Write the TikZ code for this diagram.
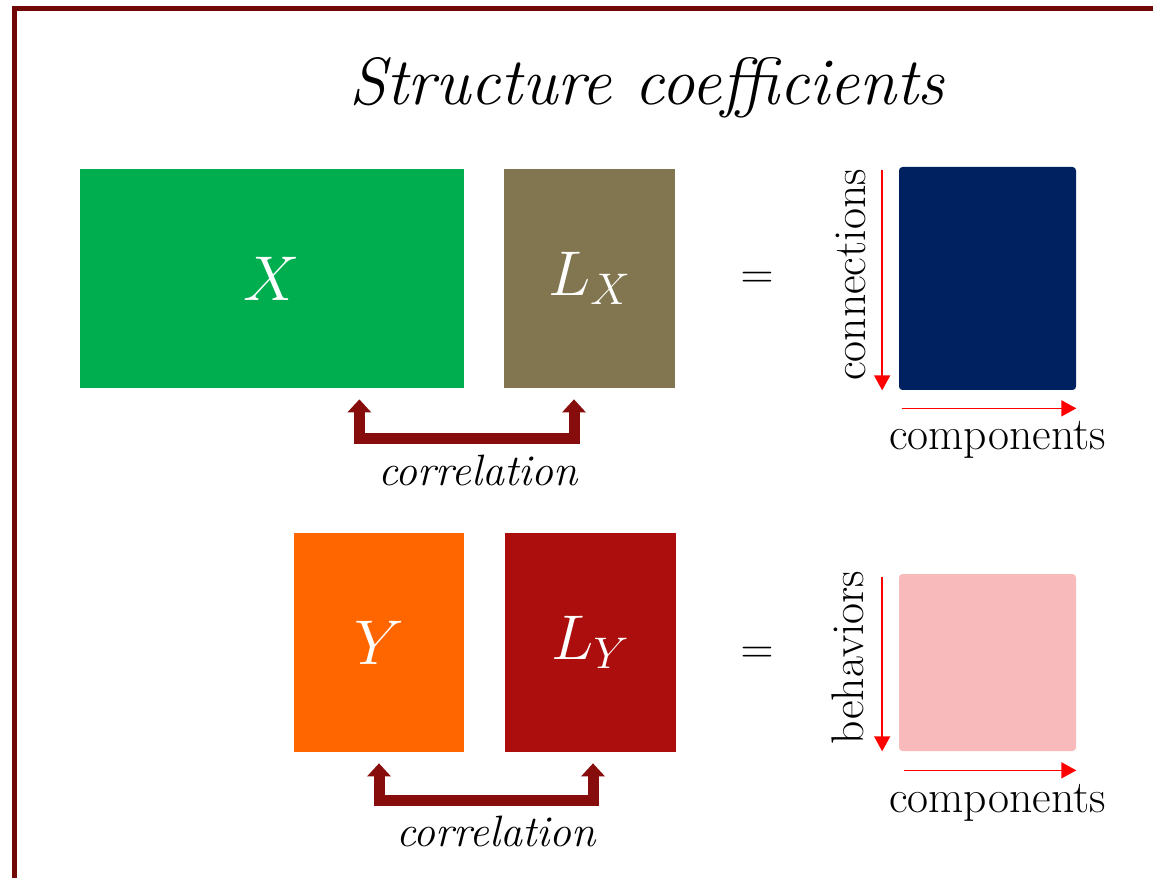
\RequirePackage{fix-cm}
\documentclass[tikz,border=0pt]{standalone}
\usepackage{tikz}
\usetikzlibrary{arrows.meta}
\definecolor{cadrerouge}{RGB}{112,8,8}
\definecolor{lienrouge}{RGB}{135,12,12}
\definecolor{vert}{RGB}{0,173,79}
\definecolor{olive}{RGB}{130,118,80}
\definecolor{marine}{RGB}{0,33,96}
\definecolor{orange}{RGB}{255,102,0}
\definecolor{bordeaux}{RGB}{172,14,14}
\definecolor{rose}{RGB}{248,186,186}
\tikzset{
  >={Triangle[width=0.32cm,length=0.3cm]},
  bloc/.style={fill=#1, inner sep=0pt, text=white, font=\fontsize{36}{40}\selectfont},
  etiq/.style={inner sep=0pt, font=\fontsize{26}{30}\selectfont},
  axe/.style={->, draw=red, line width=0.85pt},
  lien/.style={{Triangle[width=0.46cm,length=0.26cm]}-{Triangle[width=0.46cm,length=0.26cm]},
    draw=lienrouge, line width=0.22cm},
  cadre/.style={draw=cadrerouge, line width=0.1cm},
}

\begin{document}
\begin{tikzpicture}
    \useasboundingbox (0,0) rectangle (23.06,17.54);
    \draw[cadre] (0.29,-0.2) |- (23.3,17.37);
    \node[etiq, anchor=base, font=\fontsize{38}{44}\selectfont\itshape] (titre) at (12.94,15.44) {Structure coefficients};
    % premiere ligne
    \node[bloc=vert, minimum width=7.68cm, minimum height=4.38cm] (xmat) at (5.44,11.97) {$X$};
    \node[bloc=olive, minimum width=3.42cm, minimum height=4.38cm] (lxmat) at (11.79,11.97) {$L_X$};
    \node[etiq] (eg1) at (15.14,11.94) {$=$};
    \node[bloc=marine, rounded corners=2pt, minimum width=3.54cm, minimum height=4.46cm] (cmat) at (19.75,11.97) {};
    \node[etiq, rotate=90] (conn) at (17.02,12.04) {connections};
    \node[etiq, anchor=base] (comp1) at (19.95,8.54) {components};
    \draw[axe] ([xshift=-0.33cm,yshift=-0.06cm]cmat.north west) -- ([xshift=-0.33cm]cmat.south west);
    \draw[axe] ([xshift=0.06cm,yshift=-0.36cm]cmat.south west) -- ([yshift=-0.36cm]cmat.south east);
    \draw[lien] ([xshift=-2.1cm,yshift=-0.22cm]xmat.south east) -- ++(0,-0.78) -| ([xshift=-0.31cm,yshift=-0.22cm]lxmat.south);
    \node[etiq, anchor=base, font=\fontsize{25}{30}\selectfont\itshape] (corr1) at (9.56,7.84) {correlation};
    % deuxieme ligne
    \node[bloc=orange, minimum width=3.4cm, minimum height=4.38cm] (ymat) at (7.58,4.69) {$Y$};
    \node[bloc=bordeaux, minimum width=3.42cm, minimum height=4.38cm] (lymat) at (11.81,4.69) {$L_Y$};
    \node[etiq] (eg2) at (15.14,4.44) {$=$};
    \node[bloc=rose, rounded corners=2pt, minimum width=3.54cm, minimum height=3.54cm] (bmat) at (19.75,4.29) {};
    \node[etiq, rotate=90] (behav) at (16.96,4.39) {behaviors};
    \node[etiq, anchor=base] (comp2) at (19.95,1.30) {components};
    \draw[axe] ([xshift=-0.33cm,yshift=-0.06cm]bmat.north west) -- ([xshift=-0.33cm]bmat.south west);
    \draw[axe] ([xshift=0.1cm,yshift=-0.38cm]bmat.south west) -- ([yshift=-0.38cm]bmat.south east);
    \draw[lien] ([yshift=-0.22cm]ymat.south) -- ++(0,-0.74) -| ([xshift=0.05cm,yshift=-0.22cm]lymat.south);
    \node[etiq, anchor=base, font=\fontsize{25}{30}\selectfont\itshape] (corr2) at (9.92,0.62) {correlation};
\end{tikzpicture}
\end{document}
